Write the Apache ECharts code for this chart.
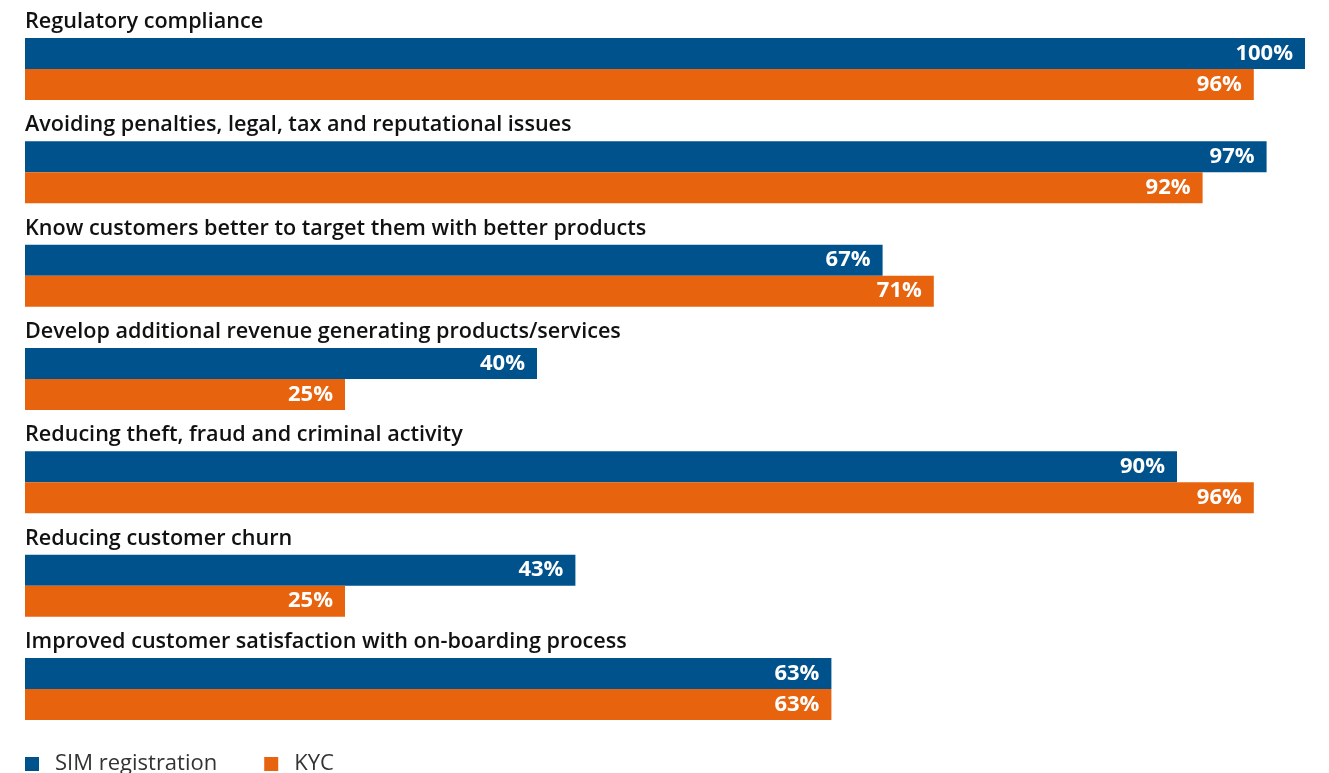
<!DOCTYPE html>
<html>
<head>
<meta charset="utf-8">
<script src="https://cdn.jsdelivr.net/npm/echarts@6/dist/echarts.min.js"></script>
<style>
  html, body { margin: 0; padding: 0; background: #fff; }
  #chart { width: 1329px; height: 773px; }
</style>
</head>
<body>
<div id="chart"></div>
<script>
var categories = [
    'Regulatory compliance',
    'Avoiding penalties, legal, tax and reputational issues',
    'Know customers better to target them with better products',
    'Develop additional revenue generating products/services',
    'Reducing theft, fraud and criminal activity',
    'Reducing customer churn',
    'Improved customer satisfaction with on-boarding process'
];
var simRegistration = [100, 97, 67, 40, 90, 43, 63];
var kyc = [96, 92, 71, 25, 96, 25, 63];

var font = '"Open Sans", "DejaVu Sans", sans-serif';

var valueLabel = {
    show: true,
    position: 'insideRight',
    distance: 12,
    color: '#fff',
    fontFamily: font,
    fontWeight: 'bold',
    fontSize: 22,
    formatter: function (params) {
        return params.value + '%';
    }
};

echarts.init(document.getElementById('chart')).setOption({
    animation: false,
    legend: {
        data: ['SIM registration', 'KYC'],
        left: 20,
        top: 748,
        icon: 'rect',
        itemWidth: 14,
        itemHeight: 14,
        itemGap: 47,
        textStyle: {
            fontFamily: font,
            fontSize: 22,
            color: '#333',
            padding: [0, 0, 0, 11]
        }
    },
    grid: {
        left: 25,
        right: 24,
        top: 17.33,
        bottom: 32.34
    },
    xAxis: {
        type: 'value',
        min: 0,
        max: 100,
        show: false
    },
    yAxis: {
        type: 'category',
        data: categories,
        inverse: true,
        axisLine: { show: false },
        axisTick: { show: false },
        splitLine: { show: false },
        axisLabel: {
            inside: true,
            margin: 0,
            align: 'left',
            verticalAlign: 'bottom',
            padding: [0, 0, 36, 0],
            color: '#111',
            fontFamily: font,
            fontWeight: 600,
            fontSize: 21.6
        }
    },
    series: [
        {
            name: 'SIM registration',
            type: 'bar',
            barWidth: 31,
            barGap: 0,
            itemStyle: { color: '#00528c' },
            label: valueLabel,
            data: simRegistration
        },
        {
            name: 'KYC',
            type: 'bar',
            barWidth: 31,
            barGap: 0,
            itemStyle: { color: '#e8630e' },
            label: valueLabel,
            data: kyc
        }
    ]
});
</script>
</body>
</html>
